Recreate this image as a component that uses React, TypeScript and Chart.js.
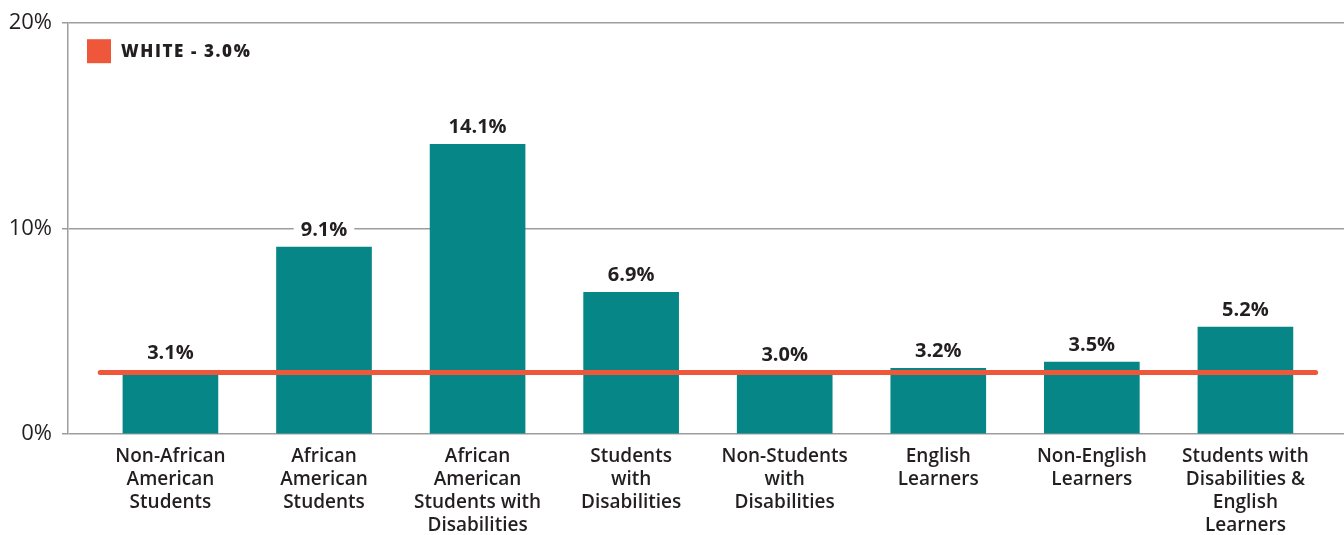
import React, { useEffect, useRef } from "react";
import { Chart, registerables } from "chart.js";

Chart.register(...registerables);

const CATEGORIES: string[][] = [
  ["Non-African", "American", "Students"],
  ["African", "American", "Students"],
  ["African", "American", "Students with", "Disabilities"],
  ["Students", "with", "Disabilities"],
  ["Non-Students", "with", "Disabilities"],
  ["English", "Learners"],
  ["Non-English", "Learners"],
  ["Students with", "Disabilities &", "English", "Learners"],
];
const RATES: number[] = [3.1, 9.1, 14.1, 6.9, 3.0, 3.2, 3.5, 5.2];
const WHITE_RATE = 3.0;
const WHITE_LABEL = `WHITE - ${WHITE_RATE.toFixed(1)}%`;
const Y_TICKS: number[] = [0, 10, 20];

// layout constants (category-index units for the x axis)
const X_MIN = -0.667;
const X_MAX = 7.642;
const LINE_FROM = -0.457;
const LINE_TO = 7.457;

const TEAL = "#078688";
const RED = "#ee573a";
const TEXT = "#231f20";
const GRID = "#9d9d9d";
const FONT = "'Open Sans', Lato, sans-serif";

const valueLabels = {
  id: "valueLabels",
  afterDatasetsDraw(chart: any) {
    const ctx = chart.ctx;
    const meta = chart.getDatasetMeta(0);
    ctx.save();
    ctx.font = `bold 20px ${FONT}`;
    ctx.textAlign = "center";
    ctx.textBaseline = "middle";
    meta.data.forEach((bar: any, i: number) => {
      const txt = `${RATES[i].toFixed(1)}%`;
      const w = ctx.measureText(txt).width + 14;
      const cy = bar.y - 18;
      ctx.fillStyle = "#ffffff";
      ctx.fillRect(bar.x - w / 2, cy - 12, w, 24);
      ctx.fillStyle = TEXT;
      ctx.fillText(txt, bar.x, cy + 1);
    });
    ctx.restore();
  },
};

const whiteLegend = {
  id: "whiteLegend",
  afterDraw(chart: any) {
    const ctx = chart.ctx;
    const { left, top } = chart.chartArea;
    ctx.save();
    ctx.fillStyle = RED;
    ctx.fillRect(left + 19, top + 16, 24, 24);
    ctx.font = `800 17px ${FONT}`;
    (ctx as any).letterSpacing = "1.6px";
    ctx.fillStyle = TEXT;
    ctx.textAlign = "left";
    ctx.textBaseline = "middle";
    ctx.fillText(chart.data.datasets[1].label, left + 53, top + 29);
    ctx.restore();
  },
};

export default function App() {
  const ref = useRef<HTMLCanvasElement>(null);
  useEffect(() => {
    document.body.style.margin = "0";
    if (!ref.current) return;
    const chart = new Chart(ref.current, {
      type: "bar",
      data: {
        datasets: [
          {
            type: "bar",
            label: "rates",
            data: RATES.map((v, i) => ({ x: i, y: v })),
            backgroundColor: TEAL,
            barThickness: 95,
            order: 1,
          } as any,
          {
            type: "line",
            label: WHITE_LABEL,
            data: [
              { x: LINE_FROM, y: WHITE_RATE },
              { x: LINE_TO, y: WHITE_RATE },
            ],
            borderColor: RED,
            borderWidth: 5,
            borderCapStyle: "round",
            pointRadius: 0,
            order: 0,
          } as any,
        ],
      },
      options: {
        animation: false,
        responsive: false,
        devicePixelRatio: 1,
        layout: { padding: { top: 20, left: 0, right: 0, bottom: 0 } },
        plugins: {
          tooltip: { enabled: false },
          legend: { display: false },
        },
        scales: {
          x: {
            type: "linear",
            offset: false,
            min: X_MIN,
            max: X_MAX,
            afterBuildTicks: (scale: any) => {
              scale.ticks = CATEGORIES.map((_, i) => ({ value: i }));
            },
            afterFit: (scale: any) => {
              scale.height = 101;
            },
            grid: { display: false, drawTicks: false, offset: false },
            border: { display: false },
            ticks: {
              autoSkip: false,
              maxRotation: 0,
              padding: 11,
              color: TEXT,
              font: { family: FONT, size: 19, weight: "600", lineHeight: 1.21 },
              callback: (value: any) => CATEGORIES[Math.round(Number(value))] ?? "",
            },
          },
          y: {
            min: 0,
            max: 20,
            afterBuildTicks: (scale: any) => {
              scale.ticks = Y_TICKS.map((v) => ({ value: v }));
            },
            afterFit: (scale: any) => {
              scale.width = 68;
            },
            grid: { color: GRID, lineWidth: 1.5, tickLength: 6, drawTicks: true },
            border: { display: true, color: GRID, width: 1.5 },
            ticks: {
              padding: 10,
              color: TEXT,
              font: { family: FONT, size: 22 },
              callback: (v: any) => `${v}%`,
            },
          },
        },
      },
      plugins: [valueLabels, whiteLegend],
    });
    return () => chart.destroy();
  }, []);
  return (
    <div style={{ width: 1344, height: 535 }}>
      <canvas ref={ref} width={1344} height={535} style={{ display: "block" }} />
    </div>
  );
}
